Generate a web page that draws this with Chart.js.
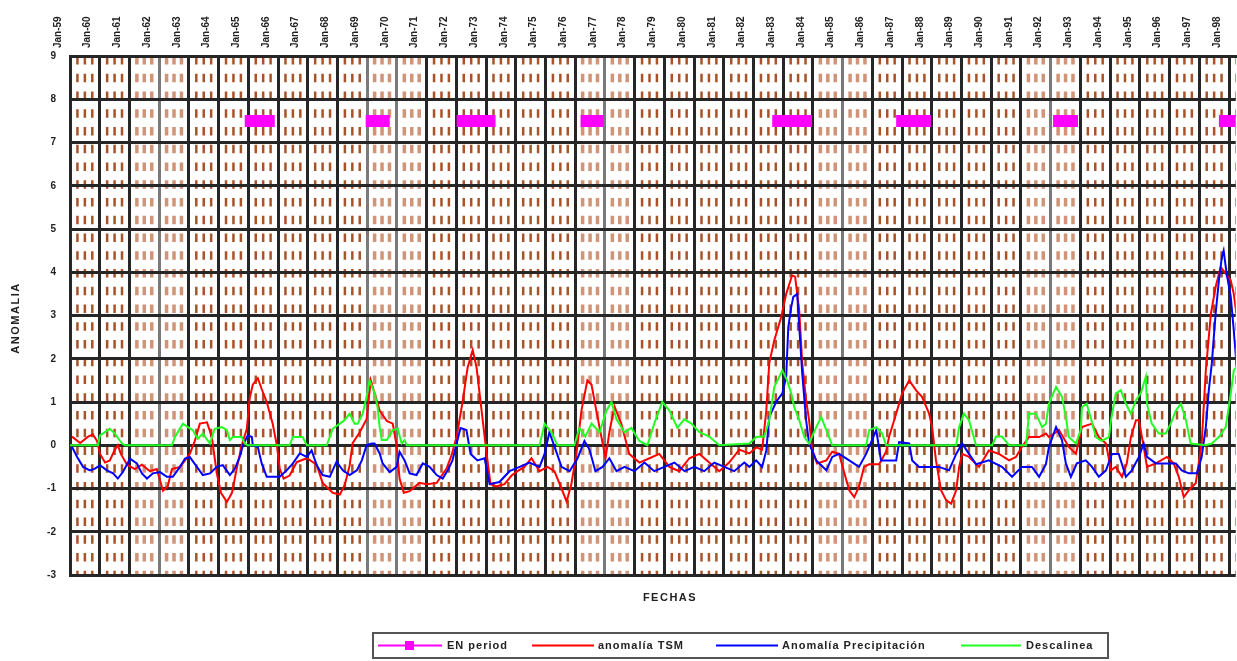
<!DOCTYPE html>
<html>
<head>
<meta charset="utf-8">
<script src="https://cdn.jsdelivr.net/npm/chart.js@4.4.1/dist/chart.umd.min.js"></script>
<style>
html,body{margin:0;padding:0;background:#fff;}
canvas{display:block;}
</style>
</head>
<body>
<canvas id="c" width="1237" height="661"></canvas>
<script>
const startYear = 1959;
const yearLabels = ['Jan-59','Jan-60','Jan-61','Jan-62','Jan-63','Jan-64','Jan-65','Jan-66','Jan-67','Jan-68',
  'Jan-69','Jan-70','Jan-71','Jan-72','Jan-73','Jan-74','Jan-75','Jan-76','Jan-77','Jan-78',
  'Jan-79','Jan-80','Jan-81','Jan-82','Jan-83','Jan-84','Jan-85','Jan-86','Jan-87','Jan-88',
  'Jan-89','Jan-90','Jan-91','Jan-92','Jan-93','Jan-94','Jan-95','Jan-96','Jan-97','Jan-98'];
const yTicks = [-3,-2,-1,0,1,2,3,4,5,6,7,8,9];

// EN period (El Niño) bars: start/end pairs, null = gap
const enYear  = [1964.88,1965.89,1966.5, 1968.95,1969.76,1971.0, 1972.01,1973.32,1975.0, 1976.18,1976.95,1980.0,
                 1982.63,1983.97,1985.0, 1986.80,1987.97,1990.0, 1992.08,1992.92,1995.0, 1997.66,1998.6];
const enValue = [7.5,7.5,null, 7.5,7.5,null, 7.5,7.5,null, 7.5,7.5,null, 7.5,7.5,null, 7.5,7.5,null, 7.5,7.5,null, 7.5,7.5];

// anomalía TSM
const tsmYear = [1959.07,1959.34,1959.61,1959.77,1959.91,1960.01,1960.18,1960.34,1960.51,1960.61,1960.71,1960.92,
  1961.18,1961.42,1961.69,1961.92,1962.13,1962.29,1962.43,1962.70,1962.87,1963.03,1963.20,1963.37,1963.61,1963.77,
  1963.94,1964.08,1964.28,1964.45,1964.61,1964.78,1964.95,1965.05,1965.15,1965.32,1965.45,1965.62,1965.82,1965.96,
  1966.06,1966.19,1966.39,1966.63,1966.97,1967.30,1967.50,1967.84,1968.08,1968.24,1968.41,1968.51,1968.75,1968.98,
  1969.12,1969.25,1969.42,1969.66,1969.86,1969.99,1970.09,1970.23,1970.43,1970.76,1971.00,1971.34,1971.67,1971.84,
  1972.01,1972.21,1972.38,1972.55,1972.68,1972.85,1973.02,1973.15,1973.35,1973.62,1973.86,1974.06,1974.29,1974.53,
  1974.80,1975.07,1975.30,1975.54,1975.71,1975.87,1976.04,1976.21,1976.41,1976.55,1976.71,1976.88,1977.02,1977.15,
  1977.32,1977.55,1977.82,1978.16,1978.50,1978.83,1979.17,1979.50,1979.84,1980.18,1980.51,1980.85,1981.18,1981.52,
  1981.86,1982.09,1982.29,1982.43,1982.53,1982.70,1982.93,1983.10,1983.30,1983.40,1983.54,1983.64,1983.77,1983.87,
  1983.97,1984.14,1984.45,1984.65,1984.88,1985.12,1985.22,1985.39,1985.55,1985.72,1985.89,1986.23,1986.46,1986.56,
  1986.80,1987.00,1987.24,1987.47,1987.67,1987.91,1988.01,1988.14,1988.31,1988.48,1988.65,1988.82,1988.92,1989.02,
  1989.25,1989.59,1989.92,1990.26,1990.60,1990.83,1991.03,1991.27,1991.61,1991.84,1991.94,1992.28,1992.61,1992.85,
  1993.05,1993.39,1993.62,1993.86,1994.03,1994.19,1994.40,1994.56,1994.70,1994.87,1994.97,1995.13,1995.24,1995.54,
  1995.91,1996.14,1996.31,1996.48,1996.65,1996.88,1997.08,1997.22,1997.39,1997.55,1997.72,1997.89,1998.06,1998.16,1998.26];
const tsmValue = [0.2,0.05,0.2,0.25,0.1,-0.2,-0.4,-0.35,-0.1,0.0,-0.2,-0.45,
  -0.55,-0.45,-0.6,-0.55,-1.05,-0.95,-0.55,-0.5,-0.35,-0.2,0.1,0.5,0.53,0.2,
  -0.65,-1.1,-1.31,-1.1,-0.54,0.0,0.38,1.1,1.4,1.55,1.3,1.0,0.5,0.0,
  -0.55,-0.77,-0.7,-0.39,-0.3,-0.45,-0.87,-1.1,-1.14,-0.93,-0.47,0.05,0.3,0.6,
  1.5,1.2,0.8,0.56,0.5,0.0,-0.77,-1.1,-1.06,-0.87,-0.9,-0.87,-0.54,-0.23,
  0.2,1.0,1.8,2.2,1.8,0.8,-0.2,-0.9,-0.95,-0.9,-0.7,-0.6,-0.5,-0.3,
  -0.6,-0.5,-0.6,-1.0,-1.3,-0.9,-0.2,0.8,1.5,1.4,0.8,0.2,-0.3,0.3,
  0.9,0.5,-0.2,-0.4,-0.3,-0.2,-0.5,-0.6,-0.3,-0.2,-0.4,-0.6,-0.4,-0.1,
  -0.19,-0.05,-0.1,0.8,1.9,2.43,2.96,3.5,3.93,3.9,3.1,1.9,1.04,0.58,
  -0.1,-0.42,-0.35,-0.15,-0.2,-0.8,-1.04,-1.2,-0.96,-0.5,-0.44,-0.44,-0.15,0.19,
  0.73,1.2,1.5,1.27,1.12,0.73,0.42,-0.35,-1.04,-1.27,-1.35,-1.04,-0.5,-0.2,
  -0.27,-0.5,-0.12,-0.2,-0.35,-0.27,-0.04,0.19,0.19,0.27,0.19,0.35,-0.04,-0.2,
  0.42,0.5,0.19,0.04,-0.58,-0.5,-0.73,-0.42,0.19,0.58,0.58,-0.04,-0.5,-0.42,
  -0.27,-0.42,-0.73,-1.2,-1.04,-0.88,0.04,1.73,3.04,3.66,4.12,3.97,3.81,3.5,3.0];

// Anomalía Precipitación
const precYear = [1959.07,1959.24,1959.44,1959.67,1959.84,1960.01,1960.24,1960.45,1960.61,1960.78,1961.02,1961.25,
  1961.42,1961.59,1961.79,1962.03,1962.26,1962.46,1962.70,1962.87,1963.03,1963.27,1963.47,1963.71,1963.94,1964.14,
  1964.38,1964.55,1964.71,1964.82,1964.98,1965.12,1965.15,1965.32,1965.45,1965.62,1966.06,1966.29,1966.50,1966.73,
  1966.97,1967.13,1967.30,1967.50,1967.74,1967.97,1968.18,1968.41,1968.65,1968.82,1968.98,1969.15,1969.25,1969.42,
  1969.52,1969.76,1969.99,1970.09,1970.26,1970.43,1970.66,1970.87,1971.10,1971.34,1971.54,1971.71,1971.87,1972.01,
  1972.14,1972.34,1972.48,1972.71,1972.95,1973.12,1973.45,1973.79,1974.13,1974.46,1974.80,1974.97,1975.13,1975.34,
  1975.54,1975.81,1976.08,1976.31,1976.48,1976.68,1976.92,1977.15,1977.39,1977.66,1977.99,1978.33,1978.66,1979.00,
  1979.34,1979.68,1980.01,1980.34,1980.68,1981.02,1981.35,1981.69,1981.86,1982.09,1982.29,1982.43,1982.53,1982.76,
  1982.97,1983.10,1983.17,1983.27,1983.34,1983.47,1983.54,1983.64,1983.77,1983.87,1983.97,1984.11,1984.45,1984.65,
  1984.88,1985.22,1985.55,1985.79,1986.13,1986.29,1986.56,1986.80,1986.90,1987.24,1987.34,1987.57,1987.91,1988.24,
  1988.58,1988.82,1989.02,1989.25,1989.49,1989.92,1990.36,1990.70,1991.03,1991.37,1991.61,1991.84,1991.94,1992.18,
  1992.38,1992.51,1992.68,1992.88,1993.18,1993.39,1993.62,1993.86,1994.06,1994.29,1994.53,1994.73,1994.97,1995.13,
  1995.24,1995.54,1995.87,1996.21,1996.41,1996.65,1996.92,1997.08,1997.22,1997.32,1997.42,1997.55,1997.66,1997.76,
  1997.82,1997.92,1998.06,1998.16,1998.26];
const precValue = [-0.04,-0.27,-0.5,-0.58,-0.54,-0.46,-0.58,-0.65,-0.77,-0.62,-0.31,-0.42,
  -0.65,-0.77,-0.65,-0.62,-0.73,-0.73,-0.5,-0.31,-0.27,-0.5,-0.69,-0.65,-0.5,-0.46,
  -0.69,-0.54,-0.27,0.0,0.23,0.19,0.0,-0.04,-0.42,-0.73,-0.73,-0.58,-0.42,-0.19,
  -0.27,-0.12,-0.46,-0.69,-0.73,-0.38,-0.58,-0.69,-0.58,-0.35,0.0,0.04,0.04,-0.19,
  -0.42,-0.62,-0.5,-0.15,-0.35,-0.65,-0.69,-0.42,-0.5,-0.69,-0.77,-0.58,-0.35,0.04,
  0.4,0.35,-0.2,-0.35,-0.3,-0.9,-0.85,-0.6,-0.5,-0.4,-0.5,-0.2,0.3,-0.1,
  -0.5,-0.6,-0.3,0.1,-0.1,-0.6,-0.5,-0.3,-0.6,-0.5,-0.6,-0.4,-0.6,-0.5,
  -0.4,-0.6,-0.5,-0.6,-0.4,-0.5,-0.6,-0.4,-0.5,-0.35,-0.5,-0.12,0.65,1.0,
  1.2,1.58,2.73,3.2,3.43,3.5,2.73,1.65,0.58,0.04,-0.12,-0.35,-0.58,-0.27,
  -0.2,-0.35,-0.5,-0.2,0.35,-0.35,-0.35,-0.35,0.07,0.04,-0.35,-0.5,-0.5,-0.5,
  -0.58,-0.2,0.04,-0.2,-0.44,-0.35,-0.5,-0.73,-0.5,-0.5,-0.73,-0.44,-0.04,0.42,
  0.12,-0.42,-0.73,-0.42,-0.35,-0.5,-0.73,-0.58,-0.2,-0.2,-0.73,-0.58,-0.27,0.04,
  -0.27,-0.42,-0.42,-0.42,-0.58,-0.65,-0.65,-0.27,0.42,1.27,1.88,3.04,3.81,4.35,
  4.5,3.97,3.43,2.66,1.8];

// Descalinea
const descYear = [1959.00,1959.94,1960.01,1960.34,1960.51,1960.75,1960.85,1962.43,1962.53,1962.80,1962.97,1963.13,
  1963.30,1963.47,1963.71,1963.87,1964.11,1964.28,1964.38,1964.48,1964.78,1964.88,1964.98,1966.39,1966.50,1966.83,
  1966.97,1967.64,1967.84,1968.08,1968.24,1968.41,1968.58,1968.68,1968.85,1968.98,1969.08,1969.25,1969.35,1969.42,
  1969.49,1969.66,1969.86,1970.03,1970.16,1970.26,1970.33,1974.80,1974.97,1975.20,1975.40,1975.97,1976.14,1976.34,
  1976.55,1976.82,1977.05,1977.22,1977.39,1977.66,1977.89,1978.16,1978.43,1978.66,1978.93,1979.17,1979.44,1979.67,
  1979.91,1980.18,1980.51,1980.85,1981.86,1982.09,1982.36,1982.53,1982.70,1982.97,1983.13,1983.27,1983.37,1983.54,
  1983.71,1983.87,1984.11,1984.28,1984.45,1984.65,1985.79,1985.89,1986.13,1986.33,1986.46,1988.82,1988.92,1989.08,
  1989.25,1989.49,1990.03,1990.16,1990.36,1990.60,1991.17,1991.27,1991.50,1991.71,1991.84,1991.94,1992.18,1992.38,
  1992.51,1992.61,1992.85,1993.01,1993.05,1993.21,1993.34,1993.52,1993.71,1993.96,1994.03,1994.19,1994.36,1994.53,
  1994.70,1994.87,1995.03,1995.20,1995.24,1995.40,1995.64,1995.87,1996.04,1996.21,1996.38,1996.55,1996.71,1997.22,
  1997.42,1997.66,1997.89,1998.06,1998.16,1998.26];
const descValue = [0,0,0.23,0.38,0.27,0.04,0,0,0.19,0.5,0.42,0.35,
  0.15,0.27,0.04,0.38,0.42,0.35,0.12,0.19,0.19,0.04,0,0,0.19,0.19,
  0,0,0.38,0.5,0.58,0.73,0.5,0.5,0.73,1.12,1.5,1.2,0.88,0.42,
  0.12,0.12,0.35,0.38,0.04,0.12,0,0,0.5,0.3,0,0,0.4,0.2,
  0.5,0.3,0.8,1.0,0.6,0.3,0.4,0.1,0,0.5,1.0,0.8,0.4,0.6,
  0.5,0.3,0.2,0,0.04,0.19,0.2,0.58,1.35,1.73,1.5,1.2,0.88,0.58,
  0.19,0.04,0.42,0.65,0.35,0,0,0.35,0.42,0.27,0,0,0.42,0.73,
  0.58,0,0,0.2,0.2,0,0,0.73,0.73,0.42,0.5,0.96,1.35,1.12,
  0.65,0.19,0.04,0.35,0.88,0.96,0.65,0.19,0.1,0.19,0.58,1.2,1.27,0.96,
  0.73,1.04,1.2,1.58,0.96,0.5,0.27,0.27,0.5,0.8,0.96,0.58,0.04,0,
  0.04,0.19,0.42,1.2,1.73,1.81];

const seriesLabels = ['EN period','anomalía TSM','Anomalía Precipitación','Descalinea'];
const seriesColors = ['#ff00ff','#ff0000','#0000ff','#22ff22'];

const toXY = (xs, ys) => xs.map((x, i) => ({x: x, y: ys[i]}));

const grayGridIdx = [3, 10, 11, 18, 26, 33];
const lightCells = [2, 3, 10, 11, 17, 18, 25, 26, 32, 33];

const patternPlugin = {
  id: 'pattern',
  beforeDraw(chart) {
    const ctx = chart.ctx, a = chart.chartArea, xs = chart.scales.x;
    ctx.save();
    ctx.beginPath();
    ctx.rect(a.left, a.top, a.right - a.left, a.bottom - a.top);
    ctx.clip();
    for (let k = 0; k <= yearLabels.length; k++) {
      const light = lightCells.includes(k);
      ctx.fillStyle = light ? '#d09478' : '#a9532a';
      const w = light ? 3.5 : 2.5;
      for (const q of [0.25, 0.5, 0.75]) {
        const px = xs.getPixelForValue(startYear + k + q);
        for (let py = a.top; py < a.bottom; py += 17.75) {
          ctx.fillRect(px - w / 2, py, w, 8.5);
        }
      }
    }
    ctx.restore();
  }
};

const legendPlugin = {
  id: 'customLegend',
  afterDraw(chart) {
    const ctx = chart.ctx;
    ctx.save();
    ctx.fillStyle = '#222';
    ctx.font = 'bold 11px "Liberation Sans", Arial, sans-serif';
    ctx.letterSpacing = '1.5px';
    ctx.textAlign = 'center';
    ctx.textBaseline = 'middle';
    ctx.fillText('FECHAS', 670, 598);
    ctx.save();
    ctx.translate(16, 318);
    ctx.rotate(-Math.PI / 2);
    ctx.fillText('ANOMALIA', 0, 0);
    ctx.restore();
    const bx = 373, by = 633, bw = 735, bh = 25;
    ctx.strokeStyle = '#555';
    ctx.lineWidth = 2;
    ctx.strokeRect(bx, by, bw, bh);
    const items = [
      {x0: 378, x1: 442, tx: 447},
      {x0: 532, x1: 594, tx: 598},
      {x0: 716, x1: 778, tx: 782},
      {x0: 961, x1: 1021, tx: 1026}
    ];
    const ly = 645.5;
    ctx.letterSpacing = '1px';
    ctx.textAlign = 'left';
    items.forEach((it, i) => {
      ctx.strokeStyle = seriesColors[i];
      ctx.lineWidth = 2;
      ctx.beginPath();
      ctx.moveTo(it.x0, ly);
      ctx.lineTo(it.x1, ly);
      ctx.stroke();
      if (i === 0) {
        ctx.fillStyle = seriesColors[0];
        ctx.fillRect(405, ly - 4.5, 9, 9);
      }
      ctx.fillStyle = '#222';
      ctx.fillText(seriesLabels[i], it.tx, ly);
    });
    ctx.restore();
  }
};

const gridDark = '#262626';

new Chart(document.getElementById('c'), {
  type: 'line',
  data: {
    datasets: [
      {label: seriesLabels[0], data: toXY(enYear, enValue), borderColor: seriesColors[0], borderWidth: 12,
        borderCapStyle: 'butt', pointRadius: 0, spanGaps: false, order: 4},
      {label: seriesLabels[1], data: toXY(tsmYear, tsmValue), borderColor: seriesColors[1], borderWidth: 2,
        pointRadius: 0, order: 3},
      {label: seriesLabels[2], data: toXY(precYear, precValue), borderColor: seriesColors[2], borderWidth: 2,
        pointRadius: 0, order: 2},
      {label: seriesLabels[3], data: toXY(descYear, descValue), borderColor: seriesColors[3], borderWidth: 2,
        pointRadius: 0, order: 1}
    ]
  },
  options: {
    responsive: false,
    animation: false,
    devicePixelRatio: 1,
    layout: {padding: {left: 0, right: 0, top: 0, bottom: 86}},
    plugins: {legend: {display: false}, tooltip: {enabled: false}},
    scales: {
      x: {
        type: 'linear',
        position: 'top',
        min: startYear,
        max: 1998.227,
        afterFit(s) { s.height = 56; },
        ticks: {
          stepSize: 1,
          includeBounds: false,
          autoSkip: false,
          minRotation: 90,
          maxRotation: 90,
          padding: 8,
          color: '#222',
          font: {family: '"Liberation Sans", Arial, sans-serif', size: 10, weight: 'bold'},
          callback: (v) => yearLabels[Math.round(v - startYear)] || ''
        },
        grid: {
          color: (c) => grayGridIdx.includes(c.index) ? '#7a7a7a' : gridDark,
          lineWidth: 3,
          drawTicks: false
        },
        border: {display: true, color: gridDark, width: 3}
      },
      y: {
        min: -3,
        max: 9,
        afterFit(s) { s.width = 70; },
        afterBuildTicks(s) { s.ticks = yTicks.map(v => ({value: v})); },
        ticks: {
          padding: 14,
          color: '#222',
          font: {family: '"Liberation Sans", Arial, sans-serif', size: 10, weight: 'bold'}
        },
        grid: {color: gridDark, lineWidth: 3, drawTicks: false},
        border: {display: true, color: gridDark, width: 3}
      }
    }
  },
  plugins: [patternPlugin, legendPlugin]
});
</script>
</body>
</html>
